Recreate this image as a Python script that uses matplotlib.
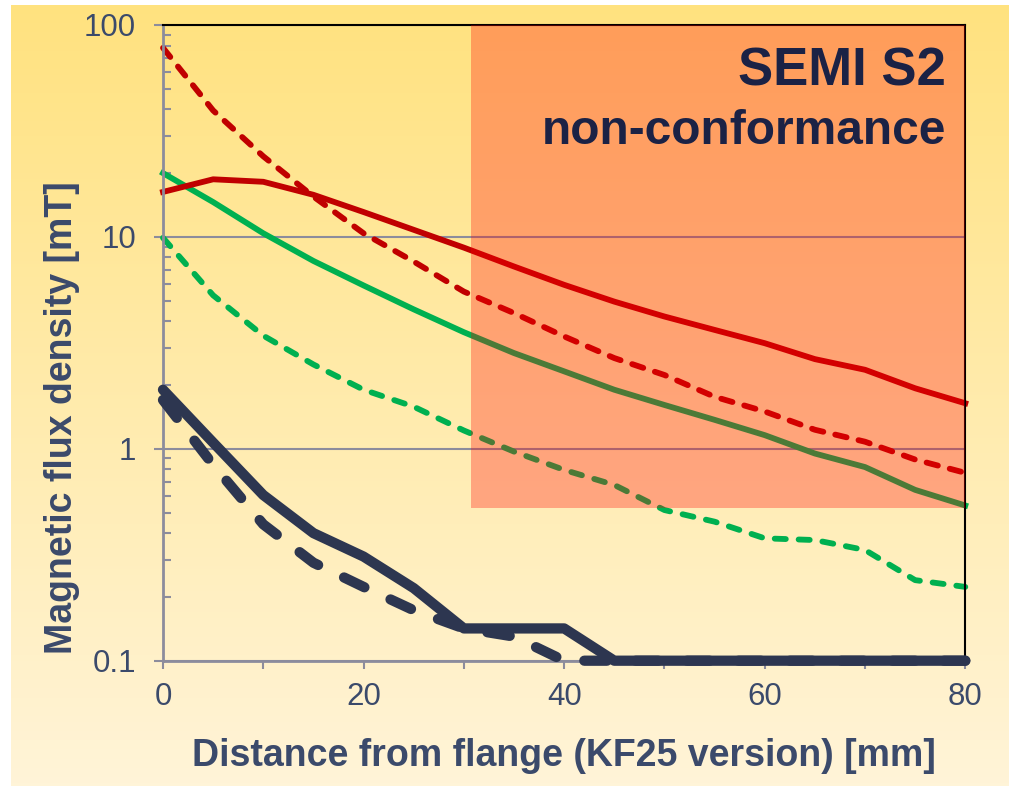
import numpy as np
import matplotlib.pyplot as plt
from matplotlib.patches import Rectangle
from matplotlib.ticker import FixedLocator, NullFormatter, LogLocator

plt.rcParams['font.family'] = ['Liberation Sans', 'DejaVu Sans']

# distance from flange [mm], measured every 5 mm
dist = np.arange(0, 81, 5)

# flux density [mT]
red_solid = [16.3, 18.7, 18.2, 15.8, 13.1, 10.8, 8.9, 7.25, 5.94, 4.95, 4.21,
             3.64, 3.15, 2.65, 2.36, 1.93, 1.64]
red_dash = [78.0, 39.5, 24.0, 15.5, 10.4, 7.65, 5.52, 4.37, 3.39, 2.68, 2.23,
            1.76, 1.50, 1.23, 1.08, 0.89, 0.77]
green_solid = [20.0, 14.6, 10.4, 7.7, 5.9, 4.55, 3.55, 2.83, 2.32, 1.90, 1.61,
               1.37, 1.16, 0.95, 0.82, 0.64, 0.54]
green_dash = [9.9, 5.3, 3.42, 2.5, 1.9, 1.58, 1.22, 0.97, 0.795, 0.675, 0.514,
              0.453, 0.378, 0.371, 0.333, 0.24, 0.223]
navy_solid = [1.9, 1.07, 0.605, 0.40, 0.31, 0.22, 0.142, 0.142, 0.142, 0.1, 0.1,
              0.1, 0.1, 0.1, 0.1, 0.1, 0.1]
navy_dash = [1.7, 0.84, 0.44, 0.29, 0.223, 0.173, 0.142, 0.13, 0.1, 0.1, 0.1,
             0.1, 0.1, 0.1, 0.1, 0.1, 0.1]

# non-conformance zone (x from, y from)
zone_x0 = 30.7
zone_y0 = 0.524

text_col = '#3b4a6b'
grid_col = '#8c8c9c'

fig = plt.figure(figsize=(10.09, 7.86), dpi=100)

# yellow background gradient
bg = fig.add_axes([11 / 1009, 0, 1 - 11 / 1009, 781 / 786], zorder=-1)
top = np.array([255, 226, 127]) / 255
bot = np.array([255, 244, 216]) / 255
t = np.linspace(0, 1, 256)[:, None]
grad = (top * (1 - t) + bot * t)[:, None, :]
bg.imshow(grad, aspect='auto', extent=[0, 1, 0, 1])
bg.axis('off')

ax = fig.add_axes([163 / 1009, 125.3 / 786, 802.3 / 1009, 635.7 / 786])
ax.set_facecolor('none')
ax.set_yscale('log')
ax.set_xlim(0, 80)
ax.set_ylim(0.1, 100)

# navy curves sit on top of the bottom spine
ax.plot(dist, navy_solid, color='#2d3650', lw=7.4, solid_capstyle='round',
        solid_joinstyle='round', clip_on=False, zorder=2.6)
ax.plot(dist, navy_dash, color='#2d3650', lw=7.4, dashes=(2.2, 2.8),
        dash_capstyle='round', dash_joinstyle='round', clip_on=False, zorder=2.6)
ax.plot(dist, green_solid, color='#00b050', lw=4.2, clip_on=False, zorder=2)
ax.plot(dist, green_dash, color='#00b050', lw=4.2, dashes=(1.9, 2.2),
        dash_capstyle='round', clip_on=False, zorder=2)
ax.plot(dist, red_solid, color='#c00000', lw=4.2, clip_on=False, zorder=2)
ax.plot(dist, red_dash, color='#c00000', lw=4.2, dashes=(2.0, 2.1),
        dash_capstyle='round', clip_on=False, zorder=2)

ax.add_patch(Rectangle((zone_x0, zone_y0), 80 - zone_x0, 100 - zone_y0,
                       facecolor='red', alpha=0.3, edgecolor='none', zorder=3))

ax.text(0.976, 0.9055, 'SEMI S2', transform=ax.transAxes, ha='right',
        va='baseline', fontsize=38, fontweight='bold', color='#1b2245', zorder=4)
ax.text(0.976, 0.8128, 'non-conformance', transform=ax.transAxes, ha='right',
        va='baseline', fontsize=34.5, fontweight='bold', color='#1b2245', zorder=4)

# axes frame
for s in ['left', 'bottom']:
    ax.spines[s].set_color(grid_col)
    ax.spines[s].set_linewidth(2)
for s in ['top', 'right']:
    ax.spines[s].set_color('black')
    ax.spines[s].set_linewidth(1.5)

ax.yaxis.grid(True, which='major', color=grid_col, lw=1.5)
ax.xaxis.set_major_locator(FixedLocator([0, 20, 40, 60, 80]))
ax.xaxis.set_minor_locator(FixedLocator([10, 30, 50, 70]))
ax.yaxis.set_major_locator(FixedLocator([0.1, 1, 10, 100]))
ax.yaxis.set_minor_locator(LogLocator(base=10, subs=np.arange(2, 10)))
ax.yaxis.set_minor_formatter(NullFormatter())
ax.set_yticklabels(['0.1', '1', '10', '100'])
ax.set_xticklabels(['0', '20', '40', '60', '80'])

ax.tick_params(axis='x', which='both', direction='out', length=6, width=1.5,
               color=grid_col, labelsize=22.5, labelcolor=text_col, pad=9)
ax.tick_params(axis='y', which='major', direction='out', length=6.5, width=1.5,
               color=grid_col, labelsize=22.5, labelcolor=text_col, pad=13)
ax.tick_params(axis='y', which='minor', direction='in', length=6, width=1.5,
               color=grid_col)

ax.set_xlabel('Distance from flange (KF25 version) [mm]', fontsize=27,
              fontweight='bold', color=text_col)
ax.set_ylabel('Magnetic flux density [mT]', fontsize=27, fontweight='bold',
              color=text_col)
ax.xaxis.set_label_coords(0.5, -0.121)
ax.yaxis.set_label_coords(-0.1035, 0.382)
ax.yaxis.label.set_va('bottom')

fig.savefig('out.png', dpi=100)
